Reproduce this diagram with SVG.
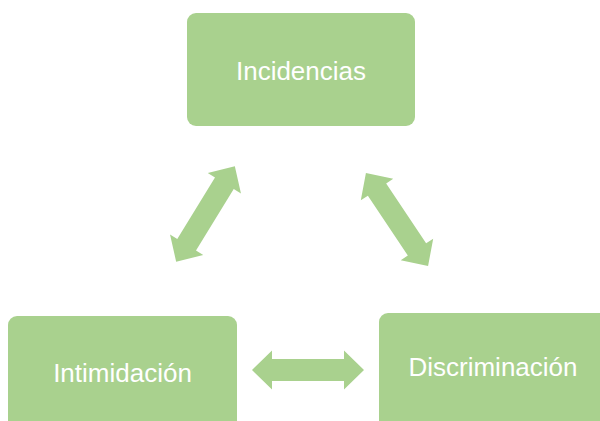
<svg xmlns="http://www.w3.org/2000/svg" width="600" height="421" viewBox="0 0 600 421">
<defs>
<style>
.box{fill:#A9D18E;}
.lbl{fill:#FFFFFF;font-family:"Liberation Sans",Arial,sans-serif;font-size:26px;text-anchor:middle;}
.arr{fill:#A9D18E;}
</style>
<path id="dbl" d="M-56,0 L-36,-19.5 L-36,-11 L36,-11 L36,-19.5 L56,0 L36,19.5 L36,11 L-36,11 L-36,19.5 Z"/>
</defs>
<rect width="600" height="421" fill="#FFFFFF"/>
<g id="connectors">
<use href="#dbl" class="arr" transform="translate(205.5,214) rotate(-58.4)"/>
<use href="#dbl" class="arr" transform="translate(397,219.5) rotate(56.3)"/>
<use href="#dbl" class="arr" transform="translate(308,370)"/>
</g>
<g id="incidencias">
<rect class="box" x="187" y="13" width="228" height="113" rx="9"/>
<text class="lbl" x="301" y="80">Incidencias</text>
</g>
<g id="intimidacion">
<rect class="box" x="8" y="316" width="229" height="120" rx="9"/>
<text class="lbl" x="122.5" y="382">Intimidación</text>
</g>
<g id="discriminacion">
<rect class="box" x="379" y="313" width="229" height="120" rx="9"/>
<text class="lbl" x="493" y="376">Discriminación</text>
</g>
</svg>
